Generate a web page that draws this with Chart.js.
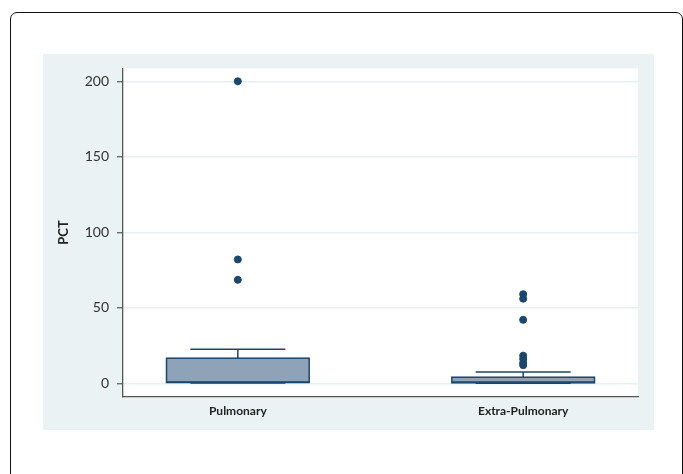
<!DOCTYPE html>
<html>
<head>
<meta charset="utf-8">
<script src="https://cdn.jsdelivr.net/npm/chart.js@4"></script>
<style>
  body { margin: 0; background: #fff; width: 683px; height: 474px; overflow: hidden; position: relative; }
  #frame { position: absolute; left: 10px; top: 12px; width: 673px; height: 500px; border: 1.5px solid #111; border-radius: 7px; box-sizing: border-box; }
  #panel { position: absolute; left: 43px; top: 54px; width: 611px; height: 376px; background: #eaf2f3; }
</style>
</head>
<body>
<div id="frame"></div>
<div id="panel"><canvas id="chart" width="611" height="376"></canvas></div>
<script>
// groups and their box statistics (PCT)
var categories = ['Pulmonary', 'Extra-Pulmonary'];
var whiskerLow = [0.1, 0.0];
var quart1 = [0.5, 0.3];
var medians = [0.9, 0.8];
var quart3 = [16.6, 4.0];
var whiskerHigh = [22.5, 7.5];
// outside values
var outliersPulmonary = [200, 82, 68.5];
var outliersExtra = [59, 56, 42, 18.3, 16, 13.5, 12];
var yTicks = [0, 50, 100, 150, 200];

var navy = '#1a476f';
var boxWidth = 0.5;
var capWidth = 0.333;

var outlierPoints = outliersPulmonary.map(function(v) { return {x: 1, y: v}; })
  .concat(outliersExtra.map(function(v) { return {x: 2, y: v}; }));

var boxPlugin = {
  id: 'boxes',
  beforeDraw: function(chart) {
    var a = chart.chartArea, ctx = chart.ctx;
    ctx.save();
    ctx.fillStyle = '#ffffff';
    ctx.fillRect(a.left, a.top, a.right - a.left, a.bottom - a.top);
    ctx.restore();
  },
  beforeDatasetsDraw: function(chart) {
    var ctx = chart.ctx, x = chart.scales.x, y = chart.scales.y;
    ctx.save();
    ctx.strokeStyle = navy;
    ctx.lineWidth = 1.5;
    categories.forEach(function(c, i) {
      var cx = x.getPixelForValue(i + 1);
      var bh = x.getPixelForValue(i + 1 + boxWidth / 2) - cx;
      var ch = x.getPixelForValue(i + 1 + capWidth / 2) - cx;
      var yq1 = y.getPixelForValue(quart1[i]);
      var yq3 = y.getPixelForValue(quart3[i]);
      var ymed = y.getPixelForValue(medians[i]);
      var ylo = y.getPixelForValue(whiskerLow[i]);
      var yhi = y.getPixelForValue(whiskerHigh[i]);
      // whiskers
      ctx.beginPath();
      ctx.moveTo(cx, yq3); ctx.lineTo(cx, yhi);
      ctx.moveTo(cx - ch, yhi); ctx.lineTo(cx + ch, yhi);
      ctx.moveTo(cx, yq1); ctx.lineTo(cx, ylo);
      ctx.moveTo(cx - ch, ylo); ctx.lineTo(cx + ch, ylo);
      ctx.stroke();
      // box
      ctx.fillStyle = '#8fa3b8';
      ctx.fillRect(cx - bh, yq3, bh * 2, yq1 - yq3);
      ctx.strokeRect(cx - bh, yq3, bh * 2, yq1 - yq3);
      ctx.beginPath();
      ctx.moveTo(cx - bh, ymed); ctx.lineTo(cx + bh, ymed);
      ctx.stroke();
    });
    ctx.restore();
  }
};

new Chart(document.getElementById('chart'), {
  type: 'scatter',
  data: {
    datasets: [{
      label: 'PCT',
      data: outlierPoints,
      backgroundColor: navy,
      borderColor: navy,
      pointRadius: 3.5,
      pointHoverRadius: 3.5
    }]
  },
  options: {
    responsive: false,
    animation: false,
    layout: { padding: { top: 14.3, right: 16, left: 0, bottom: 0 } },
    plugins: { legend: { display: false }, tooltip: { enabled: false } },
    scales: {
      x: {
        type: 'linear',
        min: 0.5975,
        max: 2.4025,
        afterBuildTicks: function(scale) {
          scale.ticks = categories.map(function(c, i) { return {value: i + 1}; });
        },
        afterFit: function(scale) {
          scale.height = 33.3;
          scale.paddingLeft = 0;
          scale.paddingRight = 0;
        },
        ticks: {
          callback: function(value) { return categories[value - 1]; },
          font: { family: 'Lato', size: 12, weight: 'bold' },
          color: '#222',
          padding: 7,
          maxRotation: 0
        },
        grid: { display: true, drawOnChartArea: false, drawTicks: false },
        border: { display: true, color: '#555', width: 1.3 }
      },
      y: {
        min: -8.9,
        max: 208.6,
        afterBuildTicks: function(scale) {
          scale.ticks = yTicks.map(function(v) { return {value: v}; });
        },
        afterFit: function(scale) {
          scale.width = 80;
          scale.paddingTop = 0;
          scale.paddingBottom = 0;
        },
        ticks: {
          font: { family: 'Lato', size: 14 },
          color: '#333',
          padding: 8
        },
        grid: { color: '#e8f0f1', lineWidth: 1.5, tickColor: '#555', tickLength: 6, tickWidth: 1.2 },
        border: { display: true, color: '#555', width: 1.3 },
        title: {
          display: true,
          text: 'PCT',
          font: { family: 'Lato', size: 13, weight: 'bold' },
          color: '#222',
          padding: { top: 13, bottom: 0 }
        }
      }
    }
  },
  plugins: [boxPlugin]
});
</script>
</body>
</html>
